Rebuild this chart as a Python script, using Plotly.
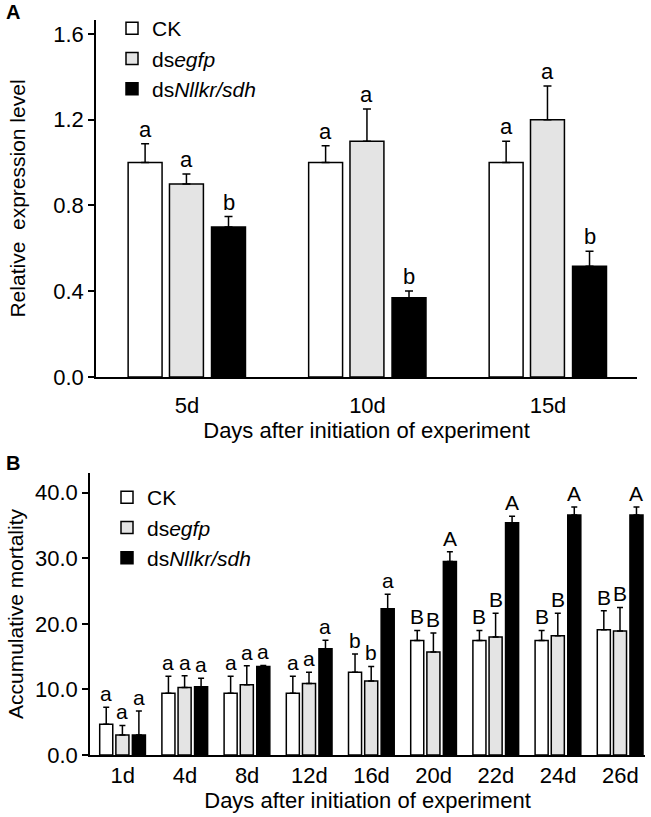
import plotly.graph_objects as go

# panel A: relative expression
days_a = ["5d", "10d", "15d"]
ck_a = [1.0, 1.0, 1.0]
ck_a_err = [0.088, 0.078, 0.10]
egfp_a = [0.90, 1.10, 1.20]
egfp_a_err = [0.047, 0.15, 0.157]
nl_a = [0.70, 0.37, 0.516]
nl_a_err = [0.048, 0.031, 0.07]
ck_a_lab = ["a", "a", "a"]
egfp_a_lab = ["a", "a", "a"]
nl_a_lab = ["b", "b", "b"]

# panel B: accumulative mortality
days_b = ["1d", "4d", "8d", "12d", "16d", "20d", "22d", "24d", "26d"]
ck_b = [4.7, 9.4, 9.4, 9.4, 12.6, 17.45, 17.45, 17.45, 19.1]
ck_b_err = [2.6, 2.6, 2.6, 2.6, 2.8, 1.55, 1.55, 1.55, 2.9]
egfp_b = [3.05, 10.3, 10.7, 10.9, 11.3, 15.7, 18.0, 18.2, 18.9]
egfp_b_err = [1.45, 1.8, 2.9, 1.7, 2.2, 2.9, 3.6, 3.4, 3.6]
nl_b = [3.05, 10.4, 13.5, 16.2, 22.3, 29.5, 35.4, 36.6, 36.6]
nl_b_err = [3.65, 1.3, 0.15, 1.3, 2.2, 1.5, 1.0, 1.2, 1.2]
ck_b_lab = ["a", "a", "a", "a", "b", "B", "B", "B", "B"]
egfp_b_lab = ["a", "a", "a", "a", "b", "B", "B", "B", "B"]
nl_b_lab = ["a", "a", "a", "a", "a", "A", "A", "A", "A"]

names = ["CK", "ds<i>egfp</i>", "ds<i>Nllkr/sdh</i>"]
fills = ["white", "#e4e4e4", "black"]
FONT = "Arial, Liberation Sans, sans-serif"

fig = go.Figure()
annots = []


def add_panel(days, vals, errs, labs, xa, ya, legend, width, offsets, cap, lab_size):
    for k in range(3):
        fig.add_trace(go.Bar(
            x=days, y=vals[k], name=names[k], width=width, offset=offsets[k],
            marker=dict(color=fills[k], line=dict(color="black", width=1.5)),
            error_y=dict(type="data", array=errs[k], arrayminus=[0] * len(days),
                         symmetric=False, color="black", thickness=1.5, width=cap),
            xaxis=xa, yaxis=ya, legend=legend, legendgroup=legend + str(k),
        ))
        for i in range(len(days)):
            annots.append(dict(
                x=i + offsets[k] + width / 2, y=vals[k][i] + errs[k][i],
                xref=xa, yref=ya, text=labs[k][i], showarrow=False,
                yanchor="bottom", yshift=0,
                font=dict(size=lab_size, color="black", family=FONT),
            ))


add_panel(days_a, [ck_a, egfp_a, nl_a], [ck_a_err, egfp_a_err, nl_a_err],
          [ck_a_lab, egfp_a_lab, nl_a_lab], "x", "y", "legend",
          0.188, [-0.326, -0.097, 0.136], 4, 22)
add_panel(days_b, [ck_b, egfp_b, nl_b], [ck_b_err, egfp_b_err, nl_b_err],
          [ck_b_lab, egfp_b_lab, nl_b_lab], "x2", "y2", "legend2",
          0.21, [-0.37, -0.11, 0.155], 3, 21)

W, H = 651, 817
axis_common = dict(showline=True, linecolor="black", linewidth=1.5, showgrid=False,
                   zeroline=False, automargin=False,
                   tickfont=dict(size=22, color="black", family=FONT))

for letter, py in [("A", 12), ("B", 463)]:
    annots.append(dict(x=13 / W, y=1 - py / H, xref="paper", yref="paper", text="<b>%s</b>" % letter,
                       xanchor="center", yanchor="middle", showarrow=False,
                       font=dict(size=20, color="black", family=FONT)))

legend_style = dict(font=dict(size=21, color="black", family=FONT), bgcolor="rgba(0,0,0,0)",
                    xanchor="left", yanchor="top", tracegroupgap=0)

fig.update_layout(
    template="none",
    width=W, height=H, margin=dict(l=0, r=0, t=0, b=0),
    plot_bgcolor="white", paper_bgcolor="white",
    font=dict(family=FONT, color="black"),
    xaxis=dict(domain=[96 / W, 637 / W], anchor="y", range=[-0.504, 2.493],
               ticks="", ticklabelstandoff=8,
               title=dict(text="Days after initiation of experiment", font=dict(size=22), standoff=4),
               **axis_common),
    yaxis=dict(domain=[1 - 377 / H, 1 - 20 / H], anchor="x", range=[0, 1.665],
               tickvals=[0, 0.4, 0.8, 1.2, 1.6], ticktext=["0.0", "0.4", "0.8", "1.2", "1.6"],
               ticks="outside", ticklen=6, tickwidth=1.5, tickcolor="black",
               title=dict(text="Relative\u00a0 expression level", font=dict(size=21), standoff=22),
               **axis_common),
    xaxis2=dict(domain=[90 / W, 645 / W], anchor="y2", range=[-0.526, 8.397],
                ticks="", ticklabelstandoff=0,
                title=dict(text="Days after initiation of experiment", font=dict(size=22), standoff=5),
                **axis_common),
    yaxis2=dict(domain=[1 - 755 / H, 1 - 473 / H], anchor="x2", range=[0, 43],
                tickvals=[0, 10, 20, 30, 40], ticktext=["0.0", "10.0", "20.0", "30.0", "40.0"],
                ticks="outside", ticklen=6, tickwidth=1.5, tickcolor="black",
                title=dict(text="Accumulative mortality", font=dict(size=21), standoff=6),
                **axis_common),
    legend=dict(x=112 / W, y=1 - 8 / H, **legend_style),
    legend2=dict(x=107 / W, y=1 - 477 / H, **legend_style),
    annotations=annots,
    showlegend=True,
)

# drop the default page margin so the figure fills the window
fig.write_html("out.html", config={"displayModeBar": False},
               post_script="document.body.style.margin='0';")
